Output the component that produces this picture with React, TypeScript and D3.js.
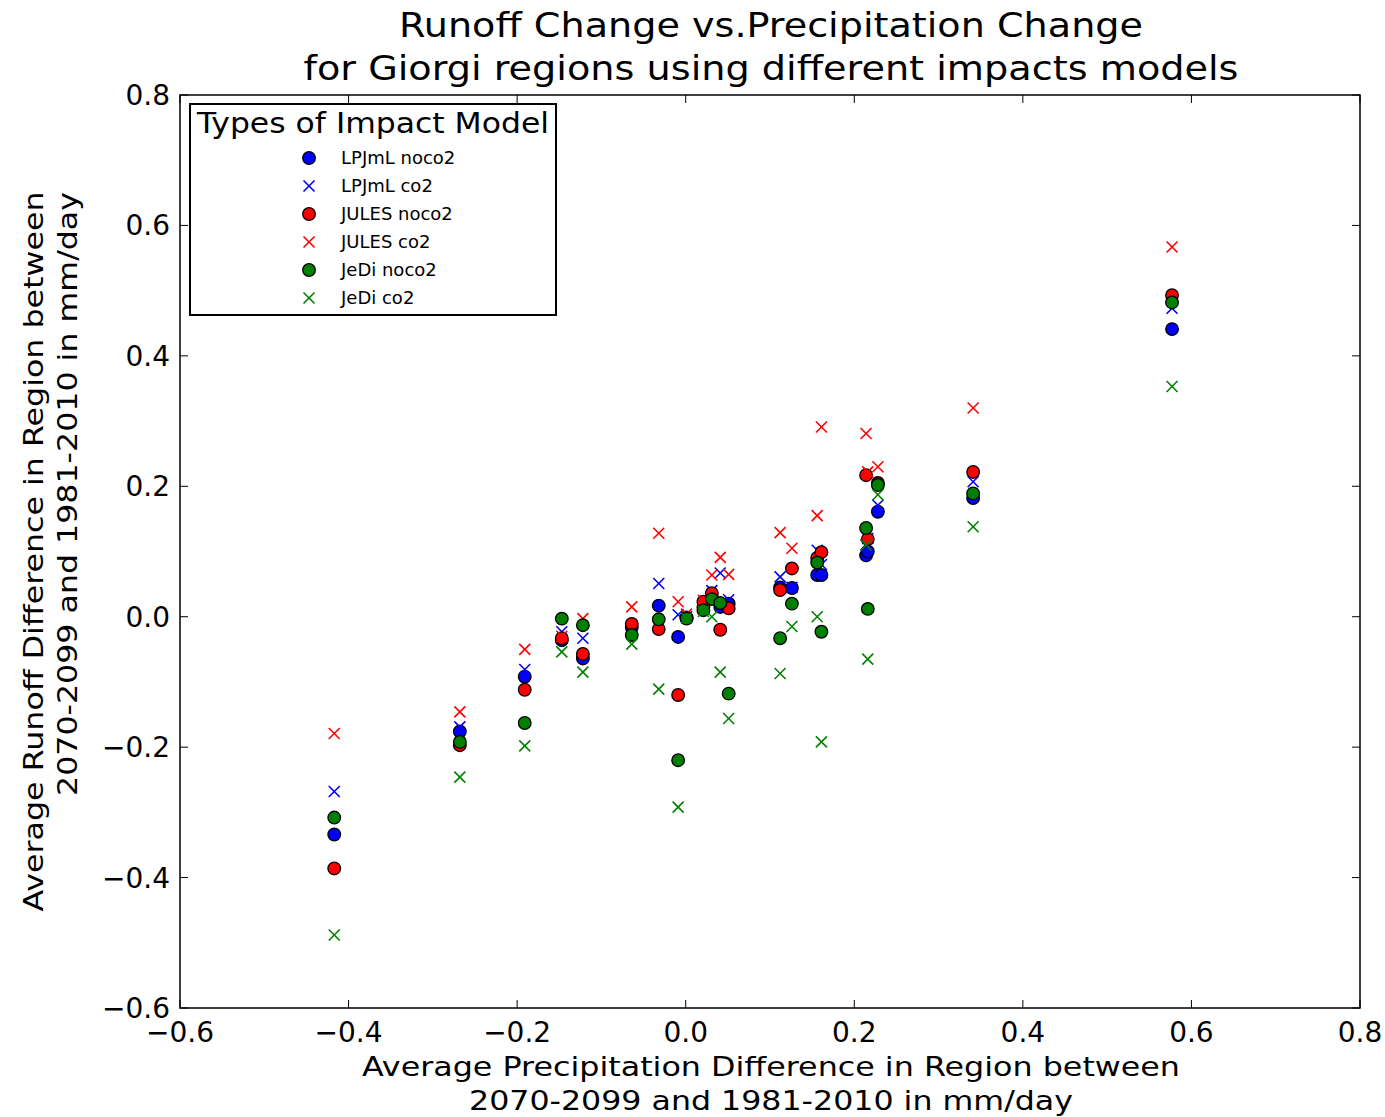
import React from "react";
import * as d3 from "d3";

// Precipitation change per Giorgi region (x)
const precipDiff = [
  -0.417, -0.268, -0.191, -0.147, -0.122, -0.064, -0.032, -0.009, 0.001, 0.021, 0.031,
  0.041, 0.051, 0.112, 0.126, 0.156, 0.161, 0.214, 0.216, 0.228, 0.341, 0.577,
];
// Runoff change per model
const lpjmlNoco2 = [
  -0.334, -0.176, -0.092, -0.036, -0.064, -0.016, 0.017, -0.031, -0.002, 0.015, 0.030,
  0.015, 0.020, 0.045, 0.044, 0.064, 0.064, 0.094, 0.100, 0.161, 0.182, 0.441,
];
const lpjmlCo2 = [
  -0.268, -0.169, -0.081, -0.023, -0.033, -0.020, 0.051, 0.003, 0.000, 0.020, 0.040,
  0.067, 0.026, 0.061, 0.045, 0.102, 0.080, 0.110, 0.120, 0.171, 0.207, 0.473,
];
const julesNoco2 = [
  -0.386, -0.197, -0.112, -0.033, -0.057, -0.011, -0.019, -0.120, -0.001, 0.023, 0.036,
  -0.020, 0.013, 0.041, 0.074, 0.090, 0.099, 0.217, 0.119, 0.205, 0.222, 0.493,
];
const julesCo2 = [
  -0.179, -0.146, -0.050, -0.030, -0.003, 0.015, 0.128, 0.023, 0.004, 0.025, 0.064,
  0.091, 0.065, 0.129, 0.105, 0.155, 0.291, 0.281, 0.222, 0.230, 0.320, 0.567,
];
const jediNoco2 = [
  -0.308, -0.192, -0.163, -0.003, -0.013, -0.028, -0.004, -0.220, -0.003, 0.010, 0.027,
  0.021, -0.118, -0.033, 0.020, 0.083, -0.023, 0.136, 0.012, 0.202, 0.189, 0.482,
];
const jediCo2 = [
  -0.488, -0.246, -0.198, -0.054, -0.085, -0.042, -0.111, -0.292, -0.002, 0.008, 0.000,
  -0.085, -0.156, -0.087, -0.015, 0.000, -0.192, 0.110, -0.065, 0.187, 0.138, 0.353,
];

const xTicks = [-0.6, -0.4, -0.2, 0.0, 0.2, 0.4, 0.6, 0.8];
const yTicks = [-0.6, -0.4, -0.2, 0.0, 0.2, 0.4, 0.6, 0.8];

const seriesNames = [
  "LPJmL noco2",
  "LPJmL co2",
  "JULES noco2",
  "JULES co2",
  "JeDi noco2",
  "JeDi co2",
];
const seriesValues = [lpjmlNoco2, lpjmlCo2, julesNoco2, julesCo2, jediNoco2, jediCo2];
const seriesColors = ["#0000ff", "#0000ff", "#ff0000", "#ff0000", "#007f00", "#008000"];
const seriesMarkers = ["o", "x", "o", "x", "o", "x"];

const W = 1385;
const H = 1117;
const left = 180;
const right = 1360;
const top = 95;
const bottom = 1008;
const FONT = "DejaVu Sans, Liberation Sans, sans-serif";

const fmt = (v: number) => {
  const s = Math.abs(v).toFixed(1);
  return v < -1e-9 ? "\u2212" + s : s;
};

function Marker({ kind, cx, cy, color }: { kind: string; cx: number; cy: number; color: string }) {
  if (kind === "o") {
    return <circle cx={cx} cy={cy} r={6.3} fill={color} stroke="#000" strokeWidth={1.3} />;
  }
  const h = 5.5;
  return (
    <g stroke={color} strokeWidth={1.6} strokeLinecap="butt">
      <line x1={cx - h} y1={cy - h} x2={cx + h} y2={cy + h} />
      <line x1={cx - h} y1={cy + h} x2={cx + h} y2={cy - h} />
    </g>
  );
}

export default function App() {
  const x = d3.scaleLinear().domain([-0.6, 0.8]).range([left, right]);
  const y = d3.scaleLinear().domain([-0.6, 0.8]).range([bottom, top]);
  const tickLen = 8;
  const cy = (top + bottom) / 2;

  const legX = 190;
  const legY = 104;
  const legW = 366;
  const legH = 211;

  const adj = "spacingAndGlyphs";

  return (
    <svg
      width={W}
      height={H}
      style={{ position: "absolute", left: 0, top: 0, background: "#fff" }}
      fontFamily={FONT}
    >
      <rect x={0} y={0} width={W} height={H} fill="#fff" />
      {/* title */}
      <text x={771} y={37} fontSize={34} textAnchor="middle" fill="#000" textLength={744} lengthAdjust={adj}>
        Runoff Change vs.Precipitation Change
      </text>
      <text x={771} y={80} fontSize={34} textAnchor="middle" fill="#000" textLength={935} lengthAdjust={adj}>
        for Giorgi regions using different impacts models
      </text>

      {/* ticks */}
      {xTicks.map((t) => (
        <g key={"xt" + t}>
          <line x1={x(t)} x2={x(t)} y1={bottom} y2={bottom - tickLen} stroke="#000" strokeWidth={1} />
          <line x1={x(t)} x2={x(t)} y1={top} y2={top + tickLen} stroke="#000" strokeWidth={1} />
          <text x={x(t)} y={1042} fontSize={28} textAnchor="middle" fill="#000">
            {fmt(t)}
          </text>
        </g>
      ))}
      {yTicks.map((t) => (
        <g key={"yt" + t}>
          <line x1={left} x2={left + tickLen} y1={y(t)} y2={y(t)} stroke="#000" strokeWidth={1} />
          <line x1={right} x2={right - tickLen} y1={y(t)} y2={y(t)} stroke="#000" strokeWidth={1} />
          <text x={170} y={y(t) + 10} fontSize={28} textAnchor="end" fill="#000">
            {fmt(t)}
          </text>
        </g>
      ))}

      {/* points */}
      {seriesValues.map((vals, si) => (
        <g key={"s" + si}>
          {vals.map((v, i) => (
            <Marker
              key={i}
              kind={seriesMarkers[si]}
              cx={x(precipDiff[i])}
              cy={y(v)}
              color={seriesColors[si]}
            />
          ))}
        </g>
      ))}

      {/* frame */}
      <rect x={left} y={top} width={right - left} height={bottom - top} fill="none" stroke="#000" strokeWidth={1.5} />

      {/* axis labels */}
      <text x={771} y={1076} fontSize={27} textAnchor="middle" fill="#000" textLength={818} lengthAdjust={adj}>
        Average Precipitation Difference in Region between
      </text>
      <text x={771} y={1110} fontSize={27} textAnchor="middle" fill="#000" textLength={604} lengthAdjust={adj}>
        2070-2099 and 1981-2010 in mm/day
      </text>
      <g transform={`translate(43, ${cy}) rotate(-90)`}>
        <text x={0} y={0} fontSize={27} textAnchor="middle" fill="#000" textLength={720} lengthAdjust={adj}>
          Average Runoff Difference in Region between
        </text>
      </g>
      <g transform={`translate(77, ${cy}) rotate(-90)`}>
        <text x={cy - 192} y={0} fontSize={27} textAnchor="end" fill="#000" textLength={604} lengthAdjust={adj}>
          2070-2099 and 1981-2010 in mm/day
        </text>
      </g>

      {/* legend */}
      <rect x={legX} y={legY} width={legW} height={legH} fill="#fff" stroke="#000" strokeWidth={2} />
      <text x={373} y={133} fontSize={28} textAnchor="middle" fill="#000" textLength={352} lengthAdjust={adj}>
        Types of Impact Model
      </text>
      {seriesNames.map((name, i) => {
        const ly = 158 + i * 28;
        return (
          <g key={"leg" + i}>
            <Marker kind={seriesMarkers[i]} cx={309} cy={ly} color={seriesColors[i]} />
            <text x={341} y={ly + 6} fontSize={18} fill="#000">
              {name}
            </text>
          </g>
        );
      })}
    </svg>
  );
}
